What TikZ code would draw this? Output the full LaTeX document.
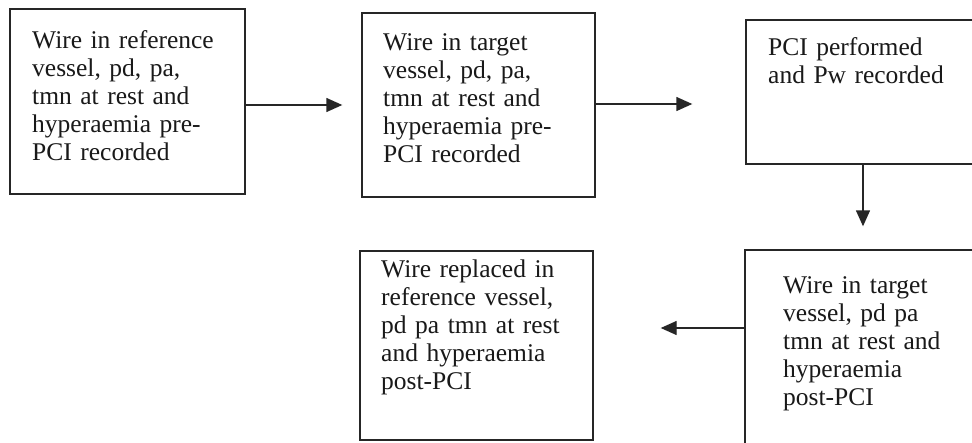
\documentclass[tikz,border=0pt]{standalone}
\usepackage{fontspec}
\setmainfont{Liberation Serif}
\usetikzlibrary{arrows.meta}
\begin{document}
\begin{tikzpicture}[x=1pt,y=-1pt,
  boxshape/.style={draw=black!85,line width=1.4pt,inner sep=0pt},
  txt/.style={anchor=base west,inner sep=0pt,text width=230pt,align=left,
    font=\fontsize{25.5}{28}\selectfont,text=black!90},
  conn/.style={draw=black!85,line width=1.4pt,-{Triangle[length=16pt,width=14pt]}}]
\clip (0,0) rectangle (972,442);
\fill[white] (0,0) rectangle (972,442);
% boxes
\node[boxshape,minimum width=235pt,minimum height=185pt] (b1) at (127.5,101.5) {};
\node[boxshape,minimum width=233pt,minimum height=184pt] (b2) at (478.5,105) {};
\node[boxshape,minimum width=234pt,minimum height=144pt] (b3) at (863,92) {};
\node[boxshape,minimum width=236pt,minimum height=210pt] (b5) at (863,355) {};
\node[boxshape,minimum width=233pt,minimum height=189pt] (b4) at (476.5,345.5) {};
% texts
\node[txt] (t1) at (32,48) {Wire in reference\\vessel, pd, pa,\\tmn at rest and\\hyperaemia pre-\\PCI recorded};
\node[txt] (t2) at (383,50) {Wire in target\\vessel, pd, pa,\\tmn at rest and\\hyperaemia pre-\\PCI recorded};
\node[txt] (t3) at (768,55) {PCI performed\\and Pw recorded};
\node[txt] (t5) at (783,293) {Wire in target\\vessel, pd pa\\tmn at rest and\\hyperaemia\\post-PCI};
\node[txt] (t4) at (381,277) {Wire replaced in\\reference vessel,\\pd pa tmn at rest\\and hyperaemia\\post-PCI};
% connectors
\draw[conn,shorten >=19pt] (b1.east |- b2.west) -- (b2.west);
\draw[conn,shorten >=53pt] ([yshift=1pt]b2.east) -- ([yshift=1pt]b2.east -| b3.west);
\draw[conn,shorten >=23pt] (b3.south) -- (b5.north);
\draw[conn,shorten >=67pt] ([yshift=27pt]b5.west) -- ([yshift=27pt]b5.west -| b4.east);
\end{tikzpicture}
\end{document}
